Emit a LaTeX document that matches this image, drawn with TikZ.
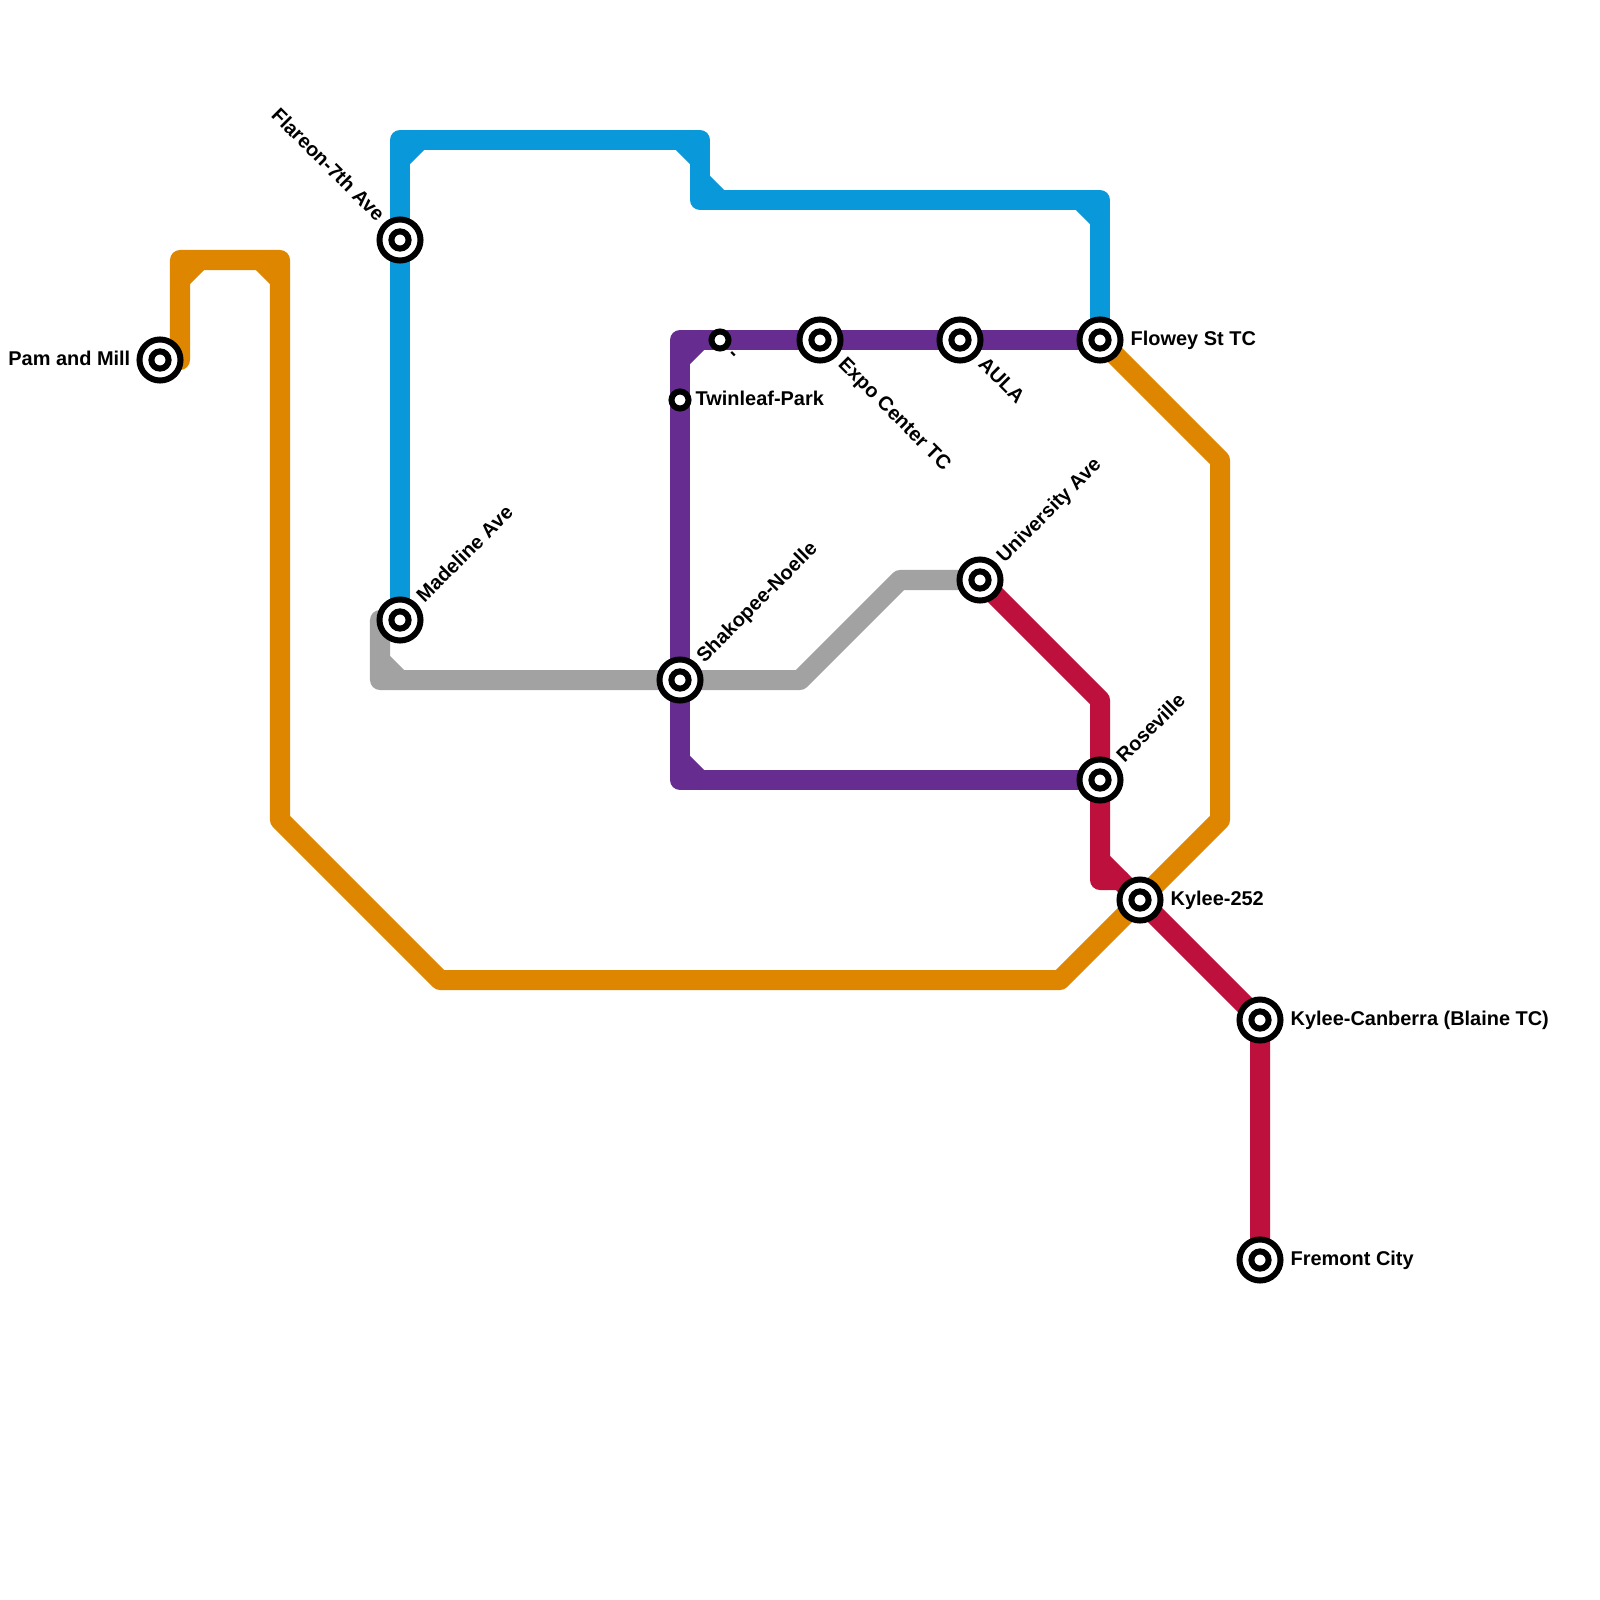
\documentclass[tikz,border=0pt]{standalone}
\usepackage{fontspec}
\setmainfont{Liberation Sans}
\usetikzlibrary{positioning}
\definecolor{lineorange}{RGB}{223,134,0}
\definecolor{lineblue}{RGB}{9,152,217}
\definecolor{linepurple}{RGB}{102,44,144}
\definecolor{linegray}{RGB}{162,162,162}
\definecolor{linered}{RGB}{189,16,60}
\begin{document}
\begin{tikzpicture}[x=0.01cm, y=-0.01cm,
  route/.style={line width=0.2cm, line cap=round, line join=round},
  stn/.style={circle, draw=black, fill=white, line width=0.06cm, inner sep=0pt, minimum size=0.41cm,
    path picture={\draw[line width=0.06cm, fill=white] (path picture bounding box.center) circle (0.086cm);}},
  halt/.style={circle, draw=black, fill=white, line width=0.06cm, inner sep=0pt, minimum size=0.17cm},
  tag/.style={font=\fontsize{5.67pt}{6.5pt}\selectfont\bfseries, inner sep=0pt, text=black, text height=0.143cm, text depth=0cm}]
\useasboundingbox (0,0) rectangle (1600,1600);
% bends
\foreach \n/\x/\y in {oa/180/360, ob/180/260, oc/280/260, od/280/820, oe/440/980, of/1060/980, og/1220/820, oh/1220/460,
  ba/400/140, bb/700/140, bc/700/200, bd/1100/200,
  pa/680/340, pb/680/780,
  ga/380/620, gb/380/680, gc/800/680, gd/900/580,
  ra/1100/700, rb/1100/880, rc/1120/880}
  { \coordinate (\n) at (\x,\y); }
% inner corners
\foreach \n/\x/\y in {oi/180/280, oj/200/260, ok/260/260, ol/280/280,
  bi/400/160, bj/420/140, bk/680/140, bl/700/160, bm/700/180, bn/720/200, bo/1080/200, bp/1100/220,
  pi/680/360, pj/700/340, pk/680/760, pl/700/780,
  gi/380/660, gj/400/680,
  ri/1100/860, rj/1120/880}
  { \coordinate (\n) at (\x,\y); }
% stations
\coordinate (pam) at (160,360);
\coordinate (flareon) at (400,240);
\coordinate (madeline) at (400,620);
\coordinate (shakopee) at (680,680);
\coordinate (expo) at (820,340);
\coordinate (aula) at (960,340);
\coordinate (flowey) at (1100,340);
\coordinate (university) at (980,580);
\coordinate (roseville) at (1100,780);
\coordinate (kylee) at (1140,900);
\coordinate (canberra) at (1260,1020);
\coordinate (fremont) at (1260,1260);
\coordinate (twinleaf) at (680,400);
\coordinate (unnamed) at (720,340);
% routes
\draw[route, lineorange] (oa) -- (ob) -- (oc) -- (od) -- (oe) -- (of) -- (og) -- (oh) -- (flowey);
\draw[route, lineorange] (oi) -- (oj) (ok) -- (ol);
\draw[route, lineblue] (madeline) -- (ba) -- (bb) -- (bc) -- (bd) -- (flowey);
\draw[route, lineblue] (bi) -- (bj) (bk) -- (bl) (bm) -- (bn) (bo) -- (bp);
\draw[route, linegray] (ga) -- (gb) -- (gc) -- (gd) -- (university);
\draw[route, linegray] (gi) -- (gj);
\draw[route, linepurple] (flowey) -- (pa) -- (pb) -- (roseville);
\draw[route, linepurple] (pi) -- (pj) (pk) -- (pl);
\draw[route, linered] (university) -- (ra) -- (rb) -- (rc) -- (kylee) -- (canberra) -- (fremont);
\draw[route, linered] (ri) -- (rj);
% stops
\foreach \n in {pam,flareon,madeline,shakopee,expo,aula,flowey,university,roseville,kylee,canberra,fremont}
  { \node[stn] (\n-stn) at (\n) {}; }
\foreach \n in {twinleaf,unnamed}
  { \node[halt] (\n-stn) at (\n) {}; }
% labels
\node[tag, anchor=east] (pam-lab) at (131,358) {Pam and Mill};
\node[tag, anchor=east, rotate=-45] (flareon-lab) at (382,218) {Flareon-7th Ave};
\node[tag, anchor=west, rotate=45] (madeline-lab) at (419,599) {Madeline Ave};
\node[tag, anchor=west] (twinleaf-lab) at (695,398) {Twinleaf-Park};
\node[tag, anchor=west, rotate=-45] (unnamed-lab) at (731.6,349.6) {-};
\node[tag, anchor=west, rotate=45] (shakopee-lab) at (699,659) {Shakopee-Noelle};
\node[tag, anchor=west, rotate=-45] (expo-lab) at (842,360) {Expo Center TC};
\node[tag, anchor=west, rotate=-45] (aula-lab) at (982,360) {AULA};
\node[tag, anchor=west] (flowey-lab) at (1130,338) {Flowey St TC};
\node[tag, anchor=west, rotate=45] (university-lab) at (999,559) {University Ave};
\node[tag, anchor=west, rotate=45] (roseville-lab) at (1119,759) {Roseville};
\node[tag, anchor=west] (kylee-lab) at (1170,898) {Kylee-252};
\node[tag, anchor=west] (canberra-lab) at (1290,1018) {Kylee-Canberra (Blaine TC)};
\node[tag, anchor=west] (fremont-lab) at (1290,1258) {Fremont City};
\end{tikzpicture}
\end{document}
